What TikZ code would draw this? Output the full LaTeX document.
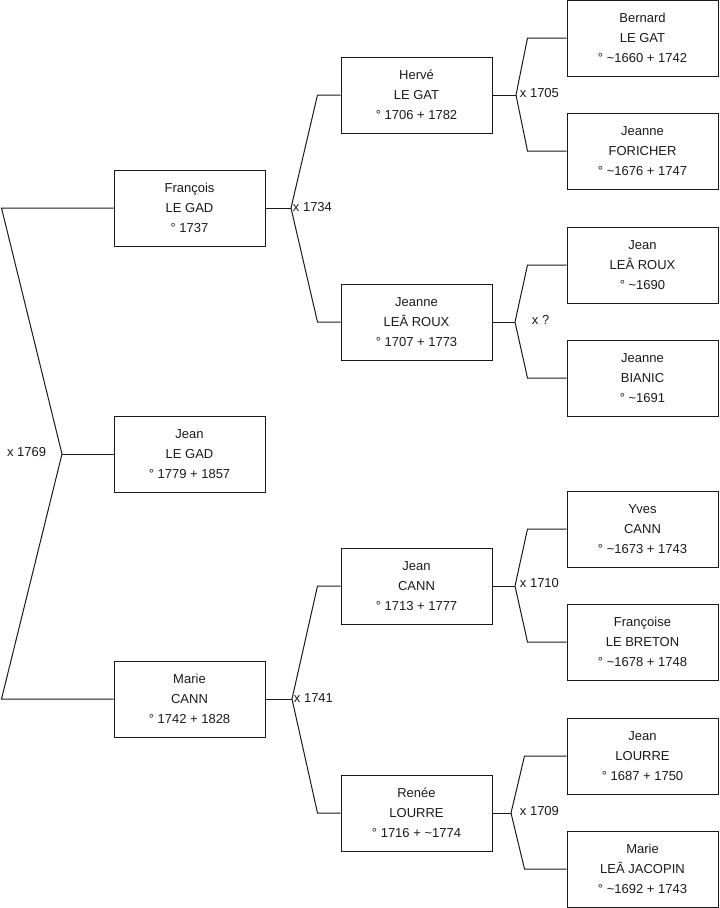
\documentclass[tikz,border=0pt]{standalone}
\usepackage{fontspec}
\setmainfont{Liberation Sans}
\usetikzlibrary{calc}
\definecolor{Ink}{HTML}{1A1A1A}

\begin{document}
\begin{tikzpicture}[x=0.75pt,y=-0.75pt,
  person/.style={draw=Ink,line width=0.75pt,minimum width=113.25pt,minimum height=57pt,inner sep=0pt,align=center,font=\fontsize{9.75}{15}\selectfont,text=Ink},
  wedlbl/.style={inner sep=0.5pt,font=\fontsize{9.75}{12}\selectfont,text=Ink},
  link/.style={draw=Ink,line width=0.75pt}]
\useasboundingbox (0,0) rectangle (719,908);
% generation 0
\node[person] (jean) at (189.5,454) {Jean\\LE GAD\\° 1779 + 1857};
% parents
\node[person] (francois) at (189.5,208) {François\\LE GAD\\° 1737};
\node[person] (marie) at (189.5,699) {Marie\\CANN\\° 1742 + 1828};
% grand-parents
\node[person] (herve) at (416.5,95) {Hervé\\LE GAT\\° 1706 + 1782};
\node[person] (jeanneR) at (416.5,322) {Jeanne\\LEÂ ROUX\\° 1707 + 1773};
\node[person] (jeanC) at (416.5,586) {Jean\\CANN\\° 1713 + 1777};
\node[person] (renee) at (416.5,813) {Renée\\LOURRE\\° 1716 + \textasciitilde1774};
% great-grand-parents
\node[person] (bernard) at (642.5,38) {Bernard\\LE GAT\\° \textasciitilde1660 + 1742};
\node[person] (jeanneF) at (642.5,151) {Jeanne\\FORICHER\\° \textasciitilde1676 + 1747};
\node[person] (jeanR) at (642.5,265) {Jean\\LEÂ ROUX\\° \textasciitilde1690};
\node[person] (jeanneB) at (642.5,378) {Jeanne\\BIANIC\\° \textasciitilde1691};
\node[person] (yves) at (642.5,529) {Yves\\CANN\\° \textasciitilde1673 + 1743};
\node[person] (francoise) at (642.5,642) {Françoise\\LE BRETON\\° \textasciitilde1678 + 1748};
\node[person] (jeanL) at (642.5,756) {Jean\\LOURRE\\° 1687 + 1750};
\node[person] (marieJ) at (642.5,869) {Marie\\LEÂ JACOPIN\\° \textasciitilde1692 + 1743};
% wedding forks
\coordinate (w1769) at (62,454);
\coordinate (w1734) at (291,208);
\coordinate (w1741) at (292,699);
\coordinate (w1705) at (516,95);
\coordinate (wq) at (515,322);
\coordinate (w1710) at (515,586);
\coordinate (w1709) at (511,813);
\draw[link] (jean.west) -- (w1769);
\draw[link] (w1769) -- ($(francois.west)+(-112,0)$) -- (francois.west);
\draw[link] (w1769) -- ($(marie.west)+(-112,0)$) -- (marie.west);
\draw[link] (francois.east) -- (w1734);
\draw[link] (w1734) -- ($(herve.west)+(-23,0)$) -- (herve.west);
\draw[link] (w1734) -- ($(jeanneR.west)+(-23,0)$) -- (jeanneR.west);
\draw[link] (marie.east) -- (w1741);
\draw[link] (w1741) -- ($(jeanC.west)+(-23,0)$) -- (jeanC.west);
\draw[link] (w1741) -- ($(renee.west)+(-23,0)$) -- (renee.west);
\draw[link] (herve.east) -- (w1705);
\draw[link] (w1705) -- ($(bernard.west)+(-39,0)$) -- (bernard.west);
\draw[link] (w1705) -- ($(jeanneF.west)+(-39,0)$) -- (jeanneF.west);
\draw[link] (jeanneR.east) -- (wq);
\draw[link] (wq) -- ($(jeanR.west)+(-39,0)$) -- (jeanR.west);
\draw[link] (wq) -- ($(jeanneB.west)+(-39,0)$) -- (jeanneB.west);
\draw[link] (jeanC.east) -- (w1710);
\draw[link] (w1710) -- ($(yves.west)+(-39,0)$) -- (yves.west);
\draw[link] (w1710) -- ($(francoise.west)+(-39,0)$) -- (francoise.west);
\draw[link] (renee.east) -- (w1709);
\draw[link] (w1709) -- ($(jeanL.west)+(-42,0)$) -- (jeanL.west);
\draw[link] (w1709) -- ($(marieJ.west)+(-42,0)$) -- (marieJ.west);
% wedding labels
\node[wedlbl,anchor=east] (l1769) at (47,452) {x 1769};
\node[wedlbl,anchor=west] (l1734) at (292,207) {x 1734};
\node[wedlbl,anchor=west] (l1741) at (293,698) {x 1741};
\node[wedlbl,anchor=west] (l1705) at (519,93) {x 1705};
\node[wedlbl,anchor=west] (lq) at (531,320) {x ?};
\node[wedlbl,anchor=west] (l1710) at (519,583) {x 1710};
\node[wedlbl,anchor=west] (l1709) at (519,811) {x 1709};
\end{tikzpicture}
\end{document}
